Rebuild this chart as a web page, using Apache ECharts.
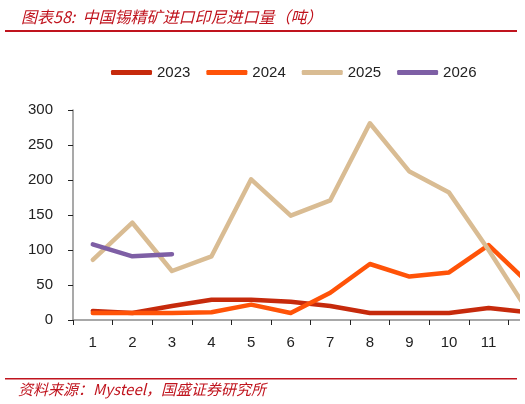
<!DOCTYPE html>
<html>
<head>
<meta charset="utf-8">
<script src="https://cdn.jsdelivr.net/npm/echarts@6/dist/echarts.min.js"></script>
<style>
  html, body { margin: 0; padding: 0; background: #fff; }
  #wrap { width: 520px; height: 404px; overflow: hidden; }
  #chart { width: 560px; height: 404px; }
</style>
</head>
<body>
<div id="wrap"><div id="chart"></div></div>
<script>
// months on the x axis
const months = ['1', '2', '3', '4', '5', '6', '7', '8', '9', '10', '11', '12']

// Indonesian tin concentrate imports, tonnes
const y2023 = [13, 10, 20, 29, 29, 26, 20, 10, 10, 10, 17, 11]
const y2024 = [10, 10, 10, 11, 22, 10, 39, 80, 62, 68, 107, 53]
const y2025 = [86, 139, 70, 91, 201, 149, 171, 281, 212, 182, 100, 12]
const y2026 = [108, 91, 94]

const COL_2023 = '#C62A0C'
const COL_2024 = '#FF5308'
const COL_2025 = '#D9BC93'
const COL_2026 = '#7E5FA5'
const RED = '#C0141E'
const AXIS_COLOR = '#8c8c8c'
const FONT = '"Liberation Sans", Arial, sans-serif'
const CJK = '"Noto Sans CJK SC", sans-serif'

function makeSeries(name, vals, color) {
  return {
    name,
    type: 'line',
    data: vals,
    symbol: 'none',
    lineStyle: { color, width: 4.5, cap: 'round', join: 'round' },
    itemStyle: { color },
  }
}

const chart = echarts.init(document.getElementById('chart'))
chart.setOption({
  animation: false,
  textStyle: { fontFamily: FONT },
  title: {
    text: '图表58:  中国锡精矿进口印尼进口量（吨）',
    left: 16,
    top: 4,
    textStyle: { color: RED, fontSize: 16, fontWeight: 'normal', fontStyle: 'italic', fontFamily: CJK },
  },
  graphic: [
    { type: 'rect', shape: { x: 5, y: 30, width: 512, height: 2 }, style: { fill: RED } },
    { type: 'rect', shape: { x: 5, y: 378, width: 512, height: 1.5 }, style: { fill: RED } },
    {
      type: 'text', left: 18, top: 382,
      style: { text: '资料来源：Mysteel，国盛证券研究所', fill: RED, fontSize: 15, fontStyle: 'italic', fontFamily: CJK },
    },
  ],
  legend: {
    left: 106,
    top: 60,
    itemWidth: 41,
    itemHeight: 5,
    itemGap: 16,
    icon: 'roundRect',
    textStyle: { color: '#222', fontSize: 15, fontFamily: FONT },
    data: ['2023', '2024', '2025', '2026'],
  },
  grid: { left: 73, top: 110, width: 475, height: 210, containLabel: false },
  xAxis: {
    type: 'category',
    data: months,
    boundaryGap: true,
    axisLine: { lineStyle: { color: AXIS_COLOR, width: 1.5 } },
    axisTick: { show: true, length: 5, lineStyle: { color: '#222' } },
    axisLabel: { color: '#222', fontSize: 15, margin: 15 },
  },
  yAxis: {
    type: 'value',
    min: 0,
    max: 300,
    interval: 50,
    splitLine: { show: false },
    axisLine: { show: true, lineStyle: { color: AXIS_COLOR, width: 1.5 } },
    axisTick: { show: true, length: 5, lineStyle: { color: '#222' } },
    axisLabel: { color: '#222', fontSize: 15, margin: 20 },
  },
  series: [
    makeSeries('2023', y2023, COL_2023),
    makeSeries('2024', y2024, COL_2024),
    makeSeries('2025', y2025, COL_2025),
    makeSeries('2026', y2026, COL_2026),
  ],
})
</script>
</body>
</html>
